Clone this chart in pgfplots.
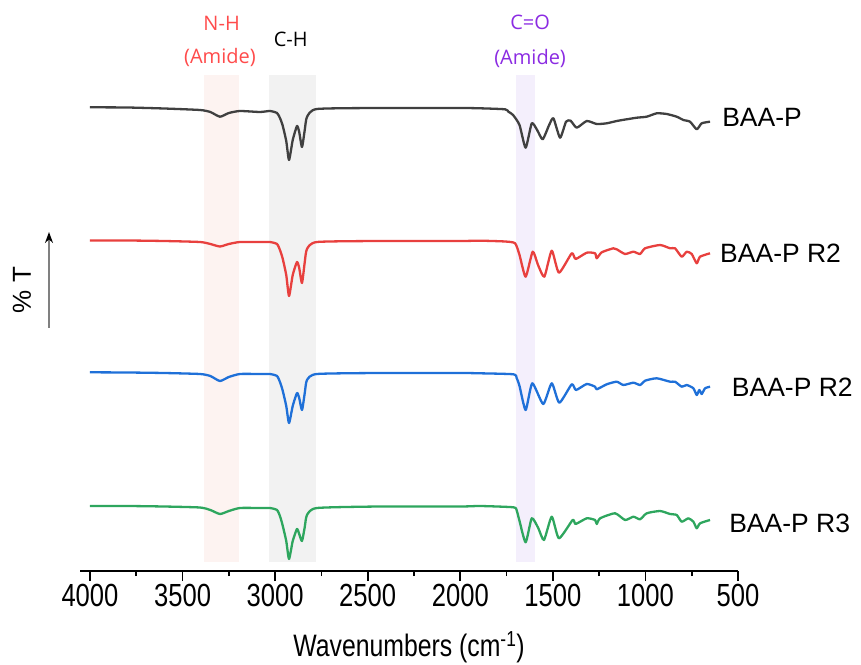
\documentclass[border=0pt]{standalone}
\usepackage{fontspec}
\setmainfont{Liberation Sans}
\newfontfamily\narrowfont[FakeStretch=0.8]{Liberation Sans}
\newfontfamily\annfont{Open Sans}
\usepackage{pgfplots}
\pgfplotsset{compat=1.18}
\usetikzlibrary{arrows.meta}
\definecolor{cgray}{HTML}{404040}
\definecolor{cred}{HTML}{E8403E}
\definecolor{cblue}{HTML}{1F70D8}
\definecolor{cgreen}{HTML}{2EA65E}
\definecolor{bandNH}{HTML}{FDF3F1}
\definecolor{bandCH}{HTML}{F2F2F2}
\definecolor{bandCO}{HTML}{F4EFFC}
\definecolor{annred}{HTML}{FF4B4B}
\definecolor{annpurple}{HTML}{8B2BE2}
\begin{document}
\begin{tikzpicture}
\useasboundingbox (0,0) rectangle (861pt,664pt);
\begin{axis}[
  at={(80pt,93pt)}, anchor=south west,
  scale only axis, width=658pt, height=561pt,
  x dir=reverse, xmin=500, xmax=4054, ymin=0, ymax=561,
  axis x line=bottom, axis y line=none,
  x axis line style={-, line width=2pt},
  every outer x axis line/.append style={-},
  xtick={500,1000,...,4000}, minor x tick num=1,
  tick align=outside,
  major tick length=10pt, minor tick length=5pt,
  every tick/.style={black, line width=1.6pt},
  xticklabel style={font=\fontsize{32}{36}\narrowfont, inner sep=0pt, anchor=north, yshift=-3pt},
  /pgf/number format/1000 sep={},
  /pgf/number format/assume math mode=true,
  clip=false,
  every axis plot/.append style={line width=2.3pt, line join=round, smooth, tension=0.35},
]
\fill[bandNH] (axis cs:3384,9) rectangle (axis cs:3195,496);
\fill[bandCH] (axis cs:3033,9) rectangle (axis cs:2779,496);
\fill[bandCO] (axis cs:1699,9) rectangle (axis cs:1596,496);

\addplot[cgray] coordinates {
(4000,463.7)(3800,463.5)(3600,462.5)(3406,461)(3350,459)(3298,454.3)(3250,458)(3190,460)
(3082,459)(3028,460)(2990,458)(2974,453)(2960,446)(2940,430)(2925,411)(2905,431)(2882,445)
(2870,439)(2855,424)(2840,441)(2828,454)(2774,462)(2434,463)(2000,463)(1893,462.7)
(1758,461.7)(1740,459.3)(1715,456)(1680,446)(1647,423.3)(1614,447.7)(1585,441)(1555,431.7)
(1520,446)(1497,452.7)(1461,433.3)(1429,449.3)(1404,450.3)(1371,443.3)(1317,450)(1263,447)
(1209,447.7)(1155,450)(1101,451.7)(1047,453.3)(993,454.3)(939,457.7)(885,457)(831,454.3)
(795,451)(759,449.3)(723,441.7)(696,447.7)(651,449.3)};

\addplot[cred] coordinates {
(4000,330.5)(3800,330.5)(3600,330)(3406,329)(3350,327)(3298,324.5)(3250,327)(3190,329)
(3082,329)(3028,329)(2990,327)(2974,321)(2960,313)(2940,296)(2925,275)(2905,296)(2882,309)
(2870,303)(2855,288)(2840,309)(2828,322)(2774,329)(2434,330)(2000,330)(1893,330.3)
(1758,329.5)(1704,327.7)(1680,316)(1647,294.3)(1609,319.3)(1580,306)(1546,294.3)(1506,320.3)
(1467,298.3)(1398,317.7)(1377,312)(1317,318.3)(1272,317.7)(1263,312.7)(1236,318.7)(1173,322.7)
(1155,321.7)(1110,317)(1065,319.3)(1029,317)(1002,322.7)(921,326)(867,322.7)(840,322.7)
(804,314.3)(777,319.3)(750,317)(723,307.7)(705,314.3)(651,317.7)};

\addplot[cblue] coordinates {
(4000,198.7)(3800,198.5)(3600,198)(3406,197)(3350,195)(3298,190)(3250,194)(3190,197)
(3082,197)(3028,197)(2990,195)(2974,189)(2960,181)(2940,165)(2925,148)(2905,165)(2882,178)
(2870,173)(2855,161)(2840,178)(2828,191)(2774,197)(2434,198)(2000,198)(1893,197.7)
(1713,196.7)(1695,192.7)(1680,185)(1647,161)(1611,187.7)(1552,167)(1506,187.7)(1465,168.3)
(1398,186.7)(1375,181)(1317,187)(1272,184.3)(1263,181.7)(1209,186.7)(1155,189.3)(1119,186)
(1065,188.3)(1029,186)(1002,190.3)(939,192.7)(867,189.3)(840,189.3)(804,184.3)(777,186)
(741,182.7)(723,176)(709,181)(696,177)(678,182.7)(651,184.3)};

\addplot[cgreen] coordinates {
(4000,65)(3800,65)(3600,64.5)(3406,63.5)(3350,61)(3298,57)(3250,60)(3190,63)
(3082,63)(3028,63)(2990,61)(2974,55)(2960,46)(2940,30)(2925,12)(2905,30)(2882,42)
(2870,37)(2855,30)(2840,44)(2828,56)(2774,63)(2434,64.5)(2000,64.5)(1893,65)
(1713,63.7)(1695,60.3)(1680,50)(1647,28.7)(1614,52.7)(1579,43)(1548,31)(1506,54.3)
(1467,32.7)(1393,51)(1377,47)(1317,52.7)(1272,51)(1263,47)(1245,52.7)(1164,57.7)
(1110,51)(1065,54.3)(1029,51.7)(993,57.7)(921,60)(867,57)(831,56)(804,49.3)(768,52.7)
(741,49.3)(723,42.7)(705,47.7)(651,51)};

\node[anchor=base, text=annred, font=\fontsize{20}{22}\annfont, inner sep=0pt] at (axis cs:3289,540.3) {N-H};
\node[anchor=base, text=annred, font=\fontsize{20}{22}\annfont, inner sep=0pt] at (axis cs:3298,507) {(Amide)};
\node[anchor=base, text=black, font=\fontsize{20}{22}\annfont, inner sep=0pt] at (axis cs:2916,524.3) {C-H};
\node[anchor=base, text=annpurple, font=\fontsize{20}{22}\annfont, inner sep=0pt] at (axis cs:1623,541) {C=O};
\node[anchor=base, text=annpurple, font=\fontsize{20}{22}\annfont, inner sep=0pt] at (axis cs:1623,506) {(Amide)};

\node[anchor=base west, font=\fontsize{26.5}{30}\selectfont, inner sep=0pt] at (axis cs:586,444.3) {BAA-P};
\node[anchor=base west, font=\fontsize{26.5}{30}\selectfont, inner sep=0pt] at (axis cs:597,308) {BAA-P R2};
\node[anchor=base west, font=\fontsize{26.5}{30}\selectfont, inner sep=0pt] at (axis cs:534,174) {BAA-P R2};
\node[anchor=base west, font=\fontsize{26.5}{30}\selectfont, inner sep=0pt] at (axis cs:548,39) {BAA-P R3};
\end{axis}
\node[anchor=base, font=\fontsize{31}{34}\narrowfont, inner sep=0pt] at (409pt,8pt) {Wavenumbers (cm\textsuperscript{-1})};
\draw[line width=1.5pt, color=gray, -{Stealth[length=11pt,width=8pt,color=black]}] (49pt,336pt) -- (49pt,432pt);
\node[rotate=90, font=\fontsize{26}{30}\selectfont, inner sep=0pt] at (22pt,374pt) {\% T};
\end{tikzpicture}
\end{document}
